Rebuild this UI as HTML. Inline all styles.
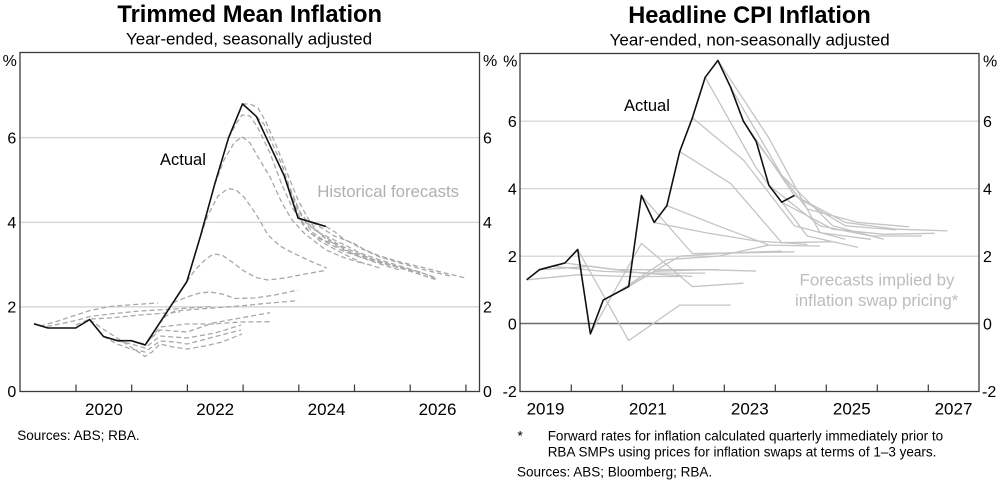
<!DOCTYPE html>
<html>
<head>
<meta charset="utf-8">
<style>
  html,body{margin:0;padding:0;background:#fff;}
  svg{display:block;}
  text{font-family:"Liberation Sans", Arial, sans-serif;}
</style>
</head>
<body>
<svg width="1000" height="484" viewBox="0 0 1000 484" xmlns="http://www.w3.org/2000/svg">
  <rect x="0" y="0" width="1000" height="484" fill="#fff"/>

  <!-- Titles -->
  <text x="249.7" y="21.8" text-anchor="middle" font-weight="bold" font-size="23.7" fill="#000">Trimmed Mean Inflation</text>
  <text x="749.5" y="23" text-anchor="middle" font-weight="bold" font-size="23.6" fill="#000">Headline CPI Inflation</text>
  <text x="249" y="44.3" text-anchor="middle" font-size="17" fill="#000">Year-ended, seasonally adjusted</text>
  <text x="749.7" y="45.5" text-anchor="middle" font-size="17" fill="#000">Year-ended, non-seasonally adjusted</text>

  <!-- ================= LEFT CHART ================= -->
  <g stroke="#cfcfcf" stroke-width="1.2">
    <line x1="20" y1="306.9" x2="479.5" y2="306.9"/>
    <line x1="20" y1="222.3" x2="479.5" y2="222.3"/>
    <line x1="20" y1="137.7" x2="479.5" y2="137.7"/>
  </g>

  <!-- historical forecasts (dashed) -->
  <g fill="none" stroke="#a8a8a8" stroke-width="1.3" stroke-dasharray="5 3" stroke-linejoin="round">
    <polyline points="40,326 55,322 70,317 90,310.5 110,306.5 135,304.5 158,303"/>
    <polyline points="47,326.5 62,323.5 76,320.5 90,316.5 110,314 140,311 175,309 213,306.5"/>
    <polyline points="76,325 90,319 110,318 140,315 180,312"/>
    <polyline points="89.6,319.6 103,329 117,338 131,347 145,356.5 152,352 160,344 173,347 187,349 205,346 222,342 242,334"/>
    <polyline points="103.5,336.5 117,344 131,349 145,352 160,341 175,342 187,344 210,338 241,330"/>
    <polyline points="117.4,340.7 131,344 145,348 160,336 187,338 215,333 241,325"/>
    <polyline points="131.3,340.7 145,344 160,330 187,332 213,323 240,318 270,312.7"/>
    <polyline points="145.2,345 160,327 187,324 213,324 240,322 270,321.7"/>
    <polyline points="159.1,323.8 166,316 175,311 200,309 240,306 270,303 298,300.7"/>
    <polyline points="173,302.7 187,297 200,293 210,292 222,294 235,298.5 255,298 275,295 298,290"/>
    <polyline points="186.9,281.5 195,270 205,260 213,254 222,255 232,262 244,271 256,277.5 268,280 285,278 305,274 325,270.5"/>
    <polyline points="200.8,235 208,215 218,196 228,188.5 236,190 244,197 256,214 268,235 280,246 293,253 310,261 326.7,268"/>
    <polyline points="214.7,184.2 224,160 234,143 242,136.7 250,143 258,157 270,177 282,203 292,220 305,234 326,250 345,258 365,264"/>
    <polyline points="228.6,137.7 236,124 242,115 250,116 258,128 270,153 282,185 292,207 305,228 320,241 340,252 360,262 380,268"/>
    <polyline points="242.5,103.9 250,104 258,108 266,122 276,145 288,175 298,200 310,222 322,236 340,248 360,257 380,264 400,270"/>
    <polyline points="256.4,116.5 264,124 272,143 282,165 290,188 300,212 312,228 330,240 350,250 372,259 395,266 420,273"/>
    <polyline points="270.3,146.2 280,166 290,190 300,213 312,232 326,242 345,252 370,260 400,268 437,280"/>
    <polyline points="284.2,175.8 292,197 300,218 310,233 322,240 336,244 350,252 368,258 395,266 420,272 437,279"/>
    <polyline points="298.1,218.1 308,224 318,232 330,238 345,245 360,253 380,260 410,269 437,278"/>
    <polyline points="312,222.3 322,228 334,236 348,241 362,249 380,257 400,263 425,270 450,276"/>
    <polyline points="325.9,226.5 335,232 345,240 355,244 365,250 380,256 400,262 425,268 445,273 465.7,278"/>
  </g>

  <!-- actual trimmed mean -->
  <polyline fill="none" stroke="#111" stroke-width="1.6" stroke-linejoin="round"
    points="34,323.8 47.9,328 61.8,328 75.7,328 89.6,319.6 103.5,336.5 117.4,340.7 131.3,340.7 145.2,345 159.1,323.8 173,302.7 186.9,281.5 200.8,235 214.7,184.2 228.6,137.7 242.5,103.9 256.4,116.5 270.3,146.2 284.2,175.8 298.1,218.1 312,222.3 325.9,226.5"/>

  <!-- frame -->
  <rect x="20" y="52.5" width="459.5" height="339" fill="none" stroke="#3a3a3a" stroke-width="1.3"/>
  <g stroke="#3a3a3a" stroke-width="1.2">
    <line x1="76" y1="384.5" x2="76" y2="391.5"/>
    <line x1="131.7" y1="384.5" x2="131.7" y2="391.5"/>
    <line x1="187.4" y1="384.5" x2="187.4" y2="391.5"/>
    <line x1="243.1" y1="384.5" x2="243.1" y2="391.5"/>
    <line x1="298.8" y1="384.5" x2="298.8" y2="391.5"/>
    <line x1="354.5" y1="384.5" x2="354.5" y2="391.5"/>
    <line x1="410.2" y1="384.5" x2="410.2" y2="391.5"/>
    <line x1="465.9" y1="384.5" x2="465.9" y2="391.5"/>
  </g>

  <!-- left chart y labels -->
  <g font-size="16" fill="#000" text-anchor="end">
    <text x="16.8" y="66">%</text>
    <text x="16.3" y="143.3">6</text>
    <text x="16.3" y="227.9">4</text>
    <text x="16.3" y="312.5">2</text>
    <text x="16.3" y="397.1">0</text>
  </g>
  <g font-size="16" fill="#000" text-anchor="start">
    <text x="483" y="66">%</text>
    <text x="483" y="143.3">6</text>
    <text x="483" y="227.9">4</text>
    <text x="483" y="312.5">2</text>
    <text x="483" y="397.1">0</text>
  </g>
  <g font-size="17" fill="#000" text-anchor="middle">
    <text x="103.9" y="414.8">2020</text>
    <text x="215.2" y="414.8">2022</text>
    <text x="326.6" y="414.8">2024</text>
    <text x="437.5" y="414.8">2026</text>
  </g>

  <text x="160" y="164.8" font-size="16.5" fill="#000">Actual</text>
  <text x="317.3" y="196.8" font-size="16.8" fill="#b0b0b0">Historical forecasts</text>

  <text x="17.3" y="440" font-size="13.5" fill="#000">Sources: ABS; RBA.</text>

  <!-- ================= RIGHT CHART ================= -->
  <g stroke="#cfcfcf" stroke-width="1.2">
    <line x1="520" y1="256.2" x2="979" y2="256.2"/>
    <line x1="520" y1="188.7" x2="979" y2="188.7"/>
    <line x1="520" y1="121.2" x2="979" y2="121.2"/>
  </g>
  <line x1="520" y1="323.5" x2="979" y2="323.5" stroke="#6a6a6a" stroke-width="1.4"/>

  <!-- swap-implied forecasts (solid light grey) -->
  <g fill="none" stroke="#c4c4c4" stroke-width="1.3" stroke-linejoin="round">
    <polyline points="526.7,279.8 577.7,274.8 628.7,276.5 679.7,276.5"/>
    <polyline points="539.4,269.7 590.4,266.3 641.4,273.1 692.4,276.5"/>
    <polyline points="552.2,266.3 603.2,271.4 654.2,273.1 705.2,273.1"/>
    <polyline points="564.9,263 615.9,269.7 666.9,269.7 717.9,269.7"/>
    <polyline points="577.7,249.45 628.7,340.6 679.7,305.1 730.7,305.1"/>
    <polyline points="590.4,333.8 641.4,243.4 692.4,286.6 743.4,283.2"/>
    <polyline points="603.2,300.1 654.2,271.4 705.2,269.7 756.2,271.05"/>
    <polyline points="615.9,293.3 666.9,259.6 717.9,256.2 768.9,245.1"/>
    <polyline points="628.7,286.6 679.7,256.2 730.7,252.8 781.7,251.1"/>
    <polyline points="641.4,195.45 692.4,253.5 743.4,252.8 794.4,251.8"/>
    <polyline points="654.2,222.45 705.2,232.6 756.2,241 807.2,244.4"/>
    <polyline points="666.9,205.6 717.9,225.8 768.9,245.1 819.9,246.1"/>
    <polyline points="679.7,151.6 730.7,183.6 781.7,242.7 832.7,241.7"/>
    <polyline points="692.4,117.8 743.4,160 794.4,225.8 845.4,239.3"/>
    <polyline points="705.2,77.3 756.2,168 807.2,236 858.2,247.4"/>
    <polyline points="717.9,60.45 768.9,138.1 819.9,232.6 870.9,239.3"/>
    <polyline points="730.7,87.45 781.7,175.2 832.7,225.8 883.7,239.3"/>
    <polyline points="743.4,121.2 794.4,195.45 845.4,225.8 896.4,229.9"/>
    <polyline points="756.2,141.45 807.2,208.95 858.2,222.45 909.2,226.8"/>
    <polyline points="768.9,185.3 819.9,225.8 870.9,236 921.9,236"/>
    <polyline points="781.7,202.2 832.7,229.2 883.7,234.3 934.7,233.3"/>
    <polyline points="794.4,195.45 845.4,222.45 896.4,229.2 947.4,230.9"/>
  </g>

  <!-- actual headline CPI -->
  <polyline fill="none" stroke="#111" stroke-width="1.6" stroke-linejoin="round"
    points="526.7,279.8 539.4,269.7 552.2,266.3 564.9,263 577.7,249.45 590.4,333.8 603.2,300.1 615.9,293.3 628.7,286.6 641.4,195.45 654.2,222.45 666.9,205.6 679.7,151.6 692.4,117.8 705.2,77.3 717.9,60.45 730.7,87.45 743.4,121.2 756.2,141.45 768.9,185.3 781.7,202.2 794.4,195.45"/>

  <!-- frame -->
  <rect x="520" y="53.5" width="459" height="338" fill="none" stroke="#3a3a3a" stroke-width="1.3"/>
  <g stroke="#3a3a3a" stroke-width="1.2">
    <line x1="571.3" y1="384.5" x2="571.3" y2="391.5"/>
    <line x1="622.3" y1="384.5" x2="622.3" y2="391.5"/>
    <line x1="673.3" y1="384.5" x2="673.3" y2="391.5"/>
    <line x1="724.3" y1="384.5" x2="724.3" y2="391.5"/>
    <line x1="775.3" y1="384.5" x2="775.3" y2="391.5"/>
    <line x1="826.3" y1="384.5" x2="826.3" y2="391.5"/>
    <line x1="877.3" y1="384.5" x2="877.3" y2="391.5"/>
    <line x1="928.3" y1="384.5" x2="928.3" y2="391.5"/>
  </g>

  <!-- right chart y labels -->
  <g font-size="16" fill="#000" text-anchor="end">
    <text x="517.3" y="66.5">%</text>
    <text x="516.8" y="126.8">6</text>
    <text x="516.8" y="194.3">4</text>
    <text x="516.8" y="261.8">2</text>
    <text x="516.8" y="329.3">0</text>
    <text x="516.8" y="396.8">-2</text>
  </g>
  <g font-size="16" fill="#000" text-anchor="start">
    <text x="983" y="66.5">%</text>
    <text x="983" y="126.8">6</text>
    <text x="983" y="194.3">4</text>
    <text x="983" y="261.8">2</text>
    <text x="983" y="329.3">0</text>
    <text x="982" y="396.8">-2</text>
  </g>
  <g font-size="17" fill="#000" text-anchor="middle">
    <text x="545.5" y="414.3">2019</text>
    <text x="647.8" y="414.3">2021</text>
    <text x="749.8" y="414.3">2023</text>
    <text x="851.8" y="414.3">2025</text>
    <text x="953.5" y="414.3">2027</text>
  </g>

  <text x="624" y="110.8" font-size="16.5" fill="#000">Actual</text>
  <text x="877" y="285.3" font-size="16.9" fill="#bdbdbd" text-anchor="middle">Forecasts implied by</text>
  <text x="876.7" y="305.8" font-size="16.9" fill="#bdbdbd" text-anchor="middle">inflation swap pricing*</text>

  <g font-size="13.5" fill="#000">
    <text x="517.5" y="440.7">*</text>
    <text x="547.7" y="440.7">Forward rates for inflation calculated quarterly immediately prior to</text>
    <text x="547.7" y="456.4">RBA SMPs using prices for inflation swaps at terms of 1–3 years.</text>
    <text x="517" y="476.4">Sources: ABS; Bloomberg; RBA.</text>
  </g>
</svg>
</body>
</html>
